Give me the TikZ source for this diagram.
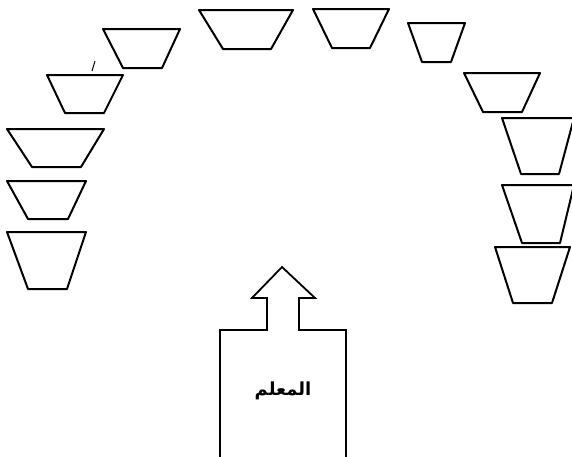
\documentclass[tikz,border=0pt]{standalone}
\usepackage{fontspec}
\newfontfamily\arabicfont[Script=Arabic]{DejaVu Sans}
\TeXXeTstate=1
\begin{document}
\begin{tikzpicture}[x=1pt,y=-1pt,
  pot/.style={draw=black,line width=2pt,line join=round},
  desk/.style={draw=black,line width=1.8pt,line join=miter},
  lbl/.style={font=\arabicfont\bfseries\fontsize{18}{20}\selectfont,inner sep=0pt}]
\useasboundingbox (0,0) rectangle (572,456);
% upper arc
\draw[pot] (47,75) -- (123,75) -- (104,113) -- (65,113) -- cycle;
\draw[pot] (103,29) -- (180,29) -- (162,68) -- (123,68) -- cycle;
\draw[pot] (199,10) -- (293,10) -- (271,49) -- (223,49) -- cycle;
\draw[pot] (313,9) -- (389,9) -- (370,48) -- (332,48) -- cycle;
\draw[pot] (408,23) -- (465,23) -- (451,62) -- (422,62) -- cycle;
\draw[pot] (464,73) -- (540,73) -- (522,112) -- (483,112) -- cycle;
% right column
\draw[pot] (502,118) -- (574,118) -- (559,174) -- (521,174) -- cycle;
\draw[pot] (502,185) -- (574,185) -- (560,243) -- (522,243) -- cycle;
\draw[pot] (495,247) -- (570,247) -- (552,303) -- (513,303) -- cycle;
% left column
\draw[pot] (7,129) -- (104,129) -- (81,167) -- (32,167) -- cycle;
\draw[pot] (7,181) -- (86,181) -- (68,219) -- (28,219) -- cycle;
\draw[pot] (7,232) -- (86,232) -- (67,289) -- (28,289) -- cycle;
% stray tick
\draw[line width=1pt] (92,71) -- (95,61);
% teacher desk with arrow
\draw[desk] (220,458) -- (220,330) -- (267,330) -- (267,298) -- (252,298)
  -- (282,267) -- (315,298) -- (299,298) -- (299,330) -- (346,330) -- (346,458);
\node[lbl] (teacher) at (283,391) {\beginR المعلم\endR};
\end{tikzpicture}
\end{document}
